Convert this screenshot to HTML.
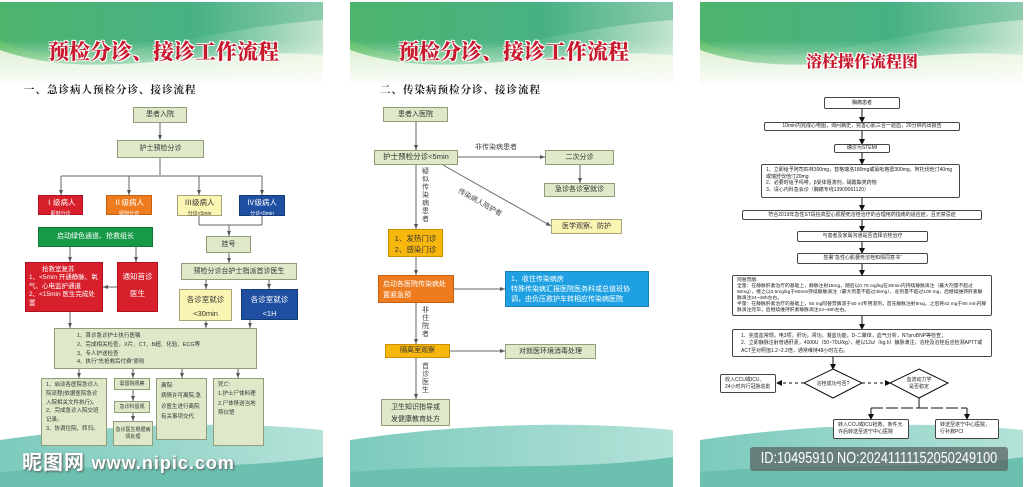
<!DOCTYPE html><html><head><meta charset="utf-8"><style>
*{margin:0;padding:0;box-sizing:border-box}
body{width:1024px;height:487px;background:#fff;position:relative;overflow:hidden;font-family:"Liberation Sans","Noto Sans CJK SC",sans-serif}
.b{position:absolute;display:flex;align-items:center;justify-content:center;text-align:center;font-size:7px;line-height:1.35;background:#dfe9c9;border:1px solid #8f9e76;color:#333}
.l{justify-content:flex-start;text-align:left;padding:2px 4px}
.c{display:block;padding-top:2px;line-height:1.3}
.w{background:#fff;border:1px solid #444;border-radius:2px;font-size:5px;color:#222}
.t{position:absolute;font-family:"Noto Serif CJK SC",serif;font-weight:900;color:#c8182c;text-shadow:1px 1px 0 #fff,-1px -1px 0 #fff,1px -1px 0 #fff,-1px 1px 0 #fff}
.s{position:absolute;font-family:"Noto Serif CJK SC",serif;font-weight:700;font-size:10.5px;color:#222;letter-spacing:1px}
.lb{position:absolute;font-size:7px;color:#444;line-height:1.15}
svg{position:absolute;left:0;top:0}
</style></head><body>
<svg width="1024" height="487">
<defs>
<linearGradient id="g1" x1="0" y1="0" x2="1" y2="0"><stop offset="0" stop-color="#5abd62"/><stop offset=".6" stop-color="#52b88a"/><stop offset="1" stop-color="#c4e4cf"/></linearGradient>
<linearGradient id="fade" x1="0" y1="0" x2="0" y2="1"><stop offset="0" stop-color="#fff" stop-opacity="0"/><stop offset="1" stop-color="#fff" stop-opacity="1"/></linearGradient>
<linearGradient id="g2" x1="0" y1="0" x2="1" y2="0"><stop offset="0" stop-color="#7ccabd"/><stop offset="1" stop-color="#b4e2d8"/></linearGradient>
<marker id="a" markerWidth="6" markerHeight="6" refX="5" refY="3" orient="auto"><path d="M0,1 L5,3 L0,5z" fill="#555"/></marker>
<marker id="k" markerWidth="6" markerHeight="6" refX="5" refY="3" orient="auto"><path d="M0,0 L6,3 L0,6z" fill="#111"/></marker>
</defs>
<g id="p">
<rect x="0" y="2" width="323" height="80" fill="url(#g1)"/>
<path d="M0,40 C80,80 180,30 323,20 L323,2 L0,2z" fill="#3aa87e" opacity=".4"/>
<path d="M0,50 C100,85 200,45 323,55 L323,85 L0,85z" fill="#eef7de" opacity=".85"/>
<rect x="0" y="40" width="323" height="50" fill="url(#fade)"/>
<path d="M0,440 C100,425 220,420 323,430 L323,487 L0,487z" fill="url(#g2)"/>
<path d="M0,472 C120,462 220,472 323,457 L323,487 L0,487z" fill="#6cc0b0"/>
</g>
<use href="#p" x="350"/>
<use href="#p" x="700"/>
<g stroke="#666" stroke-width="1" fill="none">
<line x1="160" y1="123" x2="160" y2="140" marker-end="url(#a)"/>
<line x1="160" y1="158" x2="160" y2="175"/>
<line x1="61" y1="176" x2="262" y2="176"/>
<line x1="61" y1="176" x2="61" y2="195" marker-end="url(#a)"/><line x1="129" y1="176" x2="129" y2="195" marker-end="url(#a)"/><line x1="199" y1="176" x2="199" y2="195" marker-end="url(#a)"/><line x1="262" y1="176" x2="262" y2="195" marker-end="url(#a)"/>
<line x1="199" y1="216" x2="199" y2="225"/><line x1="262" y1="216" x2="262" y2="225"/><line x1="199" y1="225" x2="262" y2="225"/><line x1="229" y1="225" x2="229" y2="236" marker-end="url(#a)"/>
<line x1="229" y1="253" x2="229" y2="263" marker-end="url(#a)"/>
<line x1="70" y1="247" x2="70" y2="262" marker-end="url(#a)"/><line x1="136" y1="247" x2="136" y2="262" marker-end="url(#a)"/>
<line x1="117" y1="287" x2="103" y2="287" marker-end="url(#a)"/>
<line x1="206" y1="280" x2="206" y2="289" marker-end="url(#a)"/><line x1="269" y1="280" x2="269" y2="289" marker-end="url(#a)"/>
<line x1="70" y1="312" x2="70" y2="328" marker-end="url(#a)"/><line x1="206" y1="321" x2="206" y2="328" marker-end="url(#a)"/><line x1="250" y1="320" x2="250" y2="328" marker-end="url(#a)"/>
<line x1="79" y1="369" x2="79" y2="378" marker-end="url(#a)"/><line x1="133" y1="369" x2="133" y2="378" marker-end="url(#a)"/><line x1="182" y1="369" x2="182" y2="378" marker-end="url(#a)"/><line x1="238" y1="369" x2="238" y2="378" marker-end="url(#a)"/>
<line x1="133" y1="390" x2="133" y2="401" marker-end="url(#a)"/><line x1="133" y1="413" x2="133" y2="421" marker-end="url(#a)"/>
<line x1="416" y1="122" x2="416" y2="150" marker-end="url(#a)"/>
<line x1="458" y1="157" x2="545" y2="157" marker-end="url(#a)"/>
<line x1="580" y1="165" x2="580" y2="183" marker-end="url(#a)"/>
<line x1="443" y1="165" x2="551" y2="226" marker-end="url(#a)"/>
<line x1="416" y1="165" x2="416" y2="229" marker-end="url(#a)"/>
<line x1="416" y1="257" x2="416" y2="275" marker-end="url(#a)"/>
<line x1="454" y1="289" x2="505" y2="289" marker-end="url(#a)"/>
<line x1="416" y1="303" x2="416" y2="344" marker-end="url(#a)"/>
<line x1="450" y1="351" x2="505" y2="351" marker-end="url(#a)"/>
<line x1="416" y1="358" x2="416" y2="399" marker-end="url(#a)"/>
</g>
<g stroke="#111" stroke-width="1" fill="none">
<line x1="862" y1="109" x2="862" y2="122" marker-end="url(#k)"/><line x1="862" y1="131" x2="862" y2="144" marker-end="url(#k)"/><line x1="862" y1="153" x2="862" y2="164" marker-end="url(#k)"/><line x1="862" y1="198" x2="862" y2="210" marker-end="url(#k)"/><line x1="862" y1="220" x2="862" y2="231" marker-end="url(#k)"/><line x1="862" y1="242" x2="862" y2="253" marker-end="url(#k)"/><line x1="862" y1="264" x2="862" y2="275" marker-end="url(#k)"/><line x1="862" y1="316" x2="862" y2="329" marker-end="url(#k)"/>
<line x1="833" y1="357" x2="833" y2="369" marker-end="url(#k)"/>
<polygon points="833,369 862,383 833,398 804,383" fill="#fff"/>
<polygon points="919,369 948,383 919,398 890,383" fill="#fff"/>
<line x1="804" y1="383" x2="777" y2="383" stroke-dasharray="3,3" marker-end="url(#k)"/>
<line x1="862" y1="383" x2="890" y2="383" stroke-dasharray="3,3" marker-end="url(#k)"/>
<line x1="919" y1="398" x2="919" y2="408"/><line x1="871" y1="408" x2="967" y2="408" stroke-dasharray="12,3"/>
<line x1="871" y1="408" x2="871" y2="419" marker-end="url(#k)"/><line x1="967" y1="408" x2="967" y2="419" marker-end="url(#k)"/>
</g>
<text x="833" y="385" font-size="5" text-anchor="middle" fill="#222">溶栓成功与否?</text>
<text x="919" y="381" font-size="5" text-anchor="middle" fill="#222">血流动力学</text><text x="919" y="388" font-size="5" text-anchor="middle" fill="#222">是否稳定</text>
</svg>

<div class="t" style="left:48px;top:36px;font-size:21px">预检分诊、接诊工作流程</div>
<div class="s" style="left:24px;top:82px">一、急诊病人预检分诊、接诊流程</div>
<div class="b" style="left:133px;top:107px;width:54px;height:16px">患者入院</div>
<div class="b" style="left:117px;top:140px;width:87px;height:18px">护士预检分诊</div>
<div class="b c" style="left:38px;top:195px;width:45px;height:20px;background:#d8202c;border-color:#b01020;color:#fff;font-size:7.5px">Ⅰ级病人<br><span style="font-size:5px">即刻分诊</span></div>
<div class="b c" style="left:106px;top:195px;width:46px;height:20px;background:#ee7b1e;border-color:#c46010;color:#fff;font-size:7.5px">Ⅱ级病人<br><span style="font-size:5px">即刻分诊</span></div>
<div class="b c" style="left:177px;top:195px;width:45px;height:21px;background:#fbf5b3;border-color:#a9a37a;font-size:7.5px">Ⅲ级病人<br><span style="font-size:5px">分诊&lt;5min</span></div>
<div class="b c" style="left:239px;top:195px;width:46px;height:21px;background:#1f4fa0;border-color:#153a78;color:#fff;font-size:7.5px">Ⅳ级病人<br><span style="font-size:5px">分诊&lt;5min</span></div>
<div class="b" style="left:38px;top:227px;width:115px;height:20px;background:#169a48;border-color:#0c7a36;color:#fff">启动绿色通道、抢救组长</div>
<div class="b" style="left:206px;top:236px;width:45px;height:17px">挂号</div>
<div class="b l" style="left:25px;top:262px;width:78px;height:50px;background:#d8202c;border-color:#b01020;color:#fff;font-size:6.5px;line-height:1.3;display:block;text-align:left;padding:3px">　　抢救室复苏<br>1、&lt;5min 开通静脉、氧气、心电监护通道<br>2、&lt;15min 医生完成处置</div>
<div class="b c" style="left:117px;top:262px;width:41px;height:50px;background:#d8202c;border-color:#b01020;color:#fff;font-size:7.5px;line-height:2.2;padding-top:6px">通知首诊<br>医生</div>
<div class="b" style="left:181px;top:263px;width:116px;height:17px;font-size:7px">预检分诊台护士指派首诊医生</div>
<div class="b c" style="left:179px;top:289px;width:53px;height:32px;background:#fbf5b3;border-color:#a9a37a;font-size:7.5px;line-height:1.8;padding-top:3px">各诊室就诊<br>&lt;30min</div>
<div class="b c" style="left:241px;top:289px;width:57px;height:31px;background:#1f4fa0;border-color:#153a78;color:#fff;font-size:7.5px;line-height:1.8;padding-top:3px">各诊室就诊<br>&lt;1H</div>
<div class="b l" style="left:54px;top:328px;width:203px;height:41px;font-size:5.5px;padding-left:22px;display:block;padding-top:3px;line-height:1.6">1、首诊急诊护士执行医嘱<br>2、完成相关检查，X片、CT、B超、化验、ECG等<br>3、专人护送检查<br>4、执行"先抢救后付费"原则</div>
<div class="b l" style="left:41px;top:378px;width:66px;height:68px;font-size:5.5px;display:block;line-height:1.6">1、启动各医院急诊入院流程(依据医院急诊入院相关文件执行)。<br>2、完成急诊入院交班记录。<br>3、协调住院、转归。</div>
<div class="b" style="left:114px;top:378px;width:36px;height:12px;font-size:5px">需留院观察</div>
<div class="b" style="left:114px;top:401px;width:36px;height:12px;font-size:5px">急诊科留观</div>
<div class="b" style="left:113px;top:421px;width:40px;height:25px;font-size:5px">急诊医生根据病情处理</div>
<div class="b l" style="left:156px;top:378px;width:51px;height:62px;font-size:5.5px;display:block;line-height:1.9">离院:<br>病情许可离院,急诊医生进行离院有关事项交代</div>
<div class="b l" style="left:213px;top:378px;width:51px;height:68px;font-size:5.5px;display:block;line-height:1.7">死亡:<br>1.护士尸体料理<br>2.尸体移送当地殡仪馆</div>
<div style="position:absolute;left:22px;top:446px;font-size:20px;font-weight:bold;color:#fff;text-shadow:1px 1px 2px #555;letter-spacing:1px;white-space:nowrap">昵图网 <span style="font-family:'Liberation Sans';font-size:18px">www.nipic.com</span></div>

<div class="t" style="left:398px;top:36px;font-size:21px">预检分诊、接诊工作流程</div>
<div class="s" style="left:380px;top:82px">二、传染病预检分诊、接诊流程</div>
<div class="b" style="left:383px;top:107px;width:65px;height:15px">患者入医院</div>
<div class="b" style="left:374px;top:150px;width:84px;height:15px;font-size:7.5px">护士预检分诊&lt;5min</div>
<div class="b" style="left:545px;top:150px;width:69px;height:15px">二次分诊</div>
<div class="b" style="left:544px;top:183px;width:71px;height:14px">急诊各诊室就诊</div>
<div class="b" style="left:551px;top:219px;width:71px;height:15px;background:#fbf5b3;border-color:#a9a37a">医学观察、防护</div>
<div class="b c" style="left:388px;top:229px;width:55px;height:28px;background:#f8b70c;border-color:#c99000;font-size:7.5px;line-height:1.4;padding-top:4px">1、发热门诊<br>2、感染门诊</div>
<div class="b l" style="left:378px;top:275px;width:76px;height:28px;background:#ee7b1e;border-color:#c46010;color:#fff;display:block;line-height:1.6;padding-top:3px">启动各医院传染病处置紧急预</div>
<div class="b l" style="left:505px;top:271px;width:144px;height:36px;background:#1ea0e2;border-color:#1a80c0;color:#fff;display:block;line-height:1.45;padding:3px 5px">1、收住传染病房<br>特殊传染病汇报医院医务科或总值班协调，由负压救护车转相应传染病医院</div>
<div class="b" style="left:385px;top:344px;width:65px;height:14px;background:#f8b70c;border-color:#c99000">隔离室观察</div>
<div class="b" style="left:505px;top:344px;width:91px;height:15px">对就医环境消毒处理</div>
<div class="b c" style="left:381px;top:399px;width:69px;height:27px;line-height:1.7;padding-top:2px">卫生知识指导或<br>发健康教育处方</div>
<div class="lb" style="left:475px;top:144px">非传染病患者</div>
<div class="lb" style="left:422px;top:168px;width:8px">疑似传染病患者</div>
<div class="lb" style="left:422px;top:307px;width:8px">非住院者</div>
<div class="lb" style="left:422px;top:363px;width:8px">首诊医生</div>
<div class="lb" style="left:460px;top:188px;transform:rotate(29deg);transform-origin:left top;white-space:nowrap">传染病人陪护者</div>

<div class="t" style="left:806px;top:49px;font-size:16px">溶栓操作流程图</div>
<div class="b w" style="left:824px;top:97px;width:76px;height:12px">胸痛患者</div>
<div class="b w" style="left:764px;top:122px;width:196px;height:9px">10min内完成心电图，询问病史，完善心肌三合一验血，20分钟内出报告</div>
<div class="b w" style="left:834px;top:144px;width:56px;height:9px">确诊为STEMI</div>
<div class="b w l" style="left:761px;top:164px;width:199px;height:34px;display:block;line-height:1.3">1、立即给予阿司匹林300mg，替格瑞洛180mg或氯吡格雷300mg，阿托伐他汀40mg或瑞舒伐他汀20mg<br>2、必要时给予吗啡，β受体阻滞剂，硝酸酯类药物<br>3、请心内科急会诊（胸痛专线13909061120）</div>
<div class="b w" style="left:742px;top:210px;width:240px;height:10px">符合2019年急性ST段抬高型心肌梗死溶栓治疗的合理用药指南的适应症，且无禁忌症</div>
<div class="b w" style="left:797px;top:231px;width:131px;height:11px">与患者及家属沟通是否选择溶栓治疗</div>
<div class="b w" style="left:797px;top:253px;width:131px;height:11px">签署“急性心肌梗死溶栓知情同意书”</div>
<div class="b w l" style="left:732px;top:275px;width:260px;height:41px;display:block;line-height:1.25;font-size:4.8px">阿替普酶:<br>全量：在静脉肝素治疗的基础上，静脉注射15mg，随后以0.75 mg/kg在30min内持续静脉滴注（最大剂量不超过50mg），继之以0.5mg/kg于60min持续静脉滴注（最大剂量不超过35mg），总剂量不超过100 mg，后继续维持肝素静脉滴注24~48h左右。<br>半量：在静脉肝素治疗的基础上，50 mg阿替普酶溶于50 ml专用溶剂，首先静脉注射8mg，之后将42 mg于90 min内静脉滴注完毕，后继续维持肝素静脉滴注24~48h左右。</div>
<div class="b w l" style="left:732px;top:329px;width:260px;height:28px;display:block;line-height:1.45;padding:3px 8px">1、完善血常规，电3项，肝功，肾功，凝血功能，D-二聚体，血气分析，NTproBNP等检查；<br>2、立即静脉注射普通肝素，4000U（50~70U/kg），继以12u/（kg.h）静脉滴注，溶栓及溶栓后应检测APTT或ACT至对照值1.2~2.2倍，通常维持48小时左右。</div>
<div class="b w l" style="left:720px;top:374px;width:56px;height:19px;display:block;line-height:1.3">收入CCU或ICU,<br>24小时内行冠脉造影</div>
<div class="b w l" style="left:833px;top:419px;width:76px;height:20px;display:block;line-height:1.4">转入CCU或ICU抢救，条件允许后转送至遂宁中心医院</div>
<div class="b w l" style="left:935px;top:419px;width:64px;height:20px;display:block;line-height:1.4">转送至遂宁中心医院，行补救PCI</div>
<div style="position:absolute;left:750px;top:447px;width:258px;height:24px;background:rgba(90,100,100,.75);border-radius:3px;overflow:hidden"><span style="position:absolute;left:50%;top:0;line-height:24px;color:#fff;white-space:nowrap;font-size:15.5px;transform:translateX(-50%) scaleX(.82)">ID:10495910 NO:20241111152050249100</span></div>
</body></html>
